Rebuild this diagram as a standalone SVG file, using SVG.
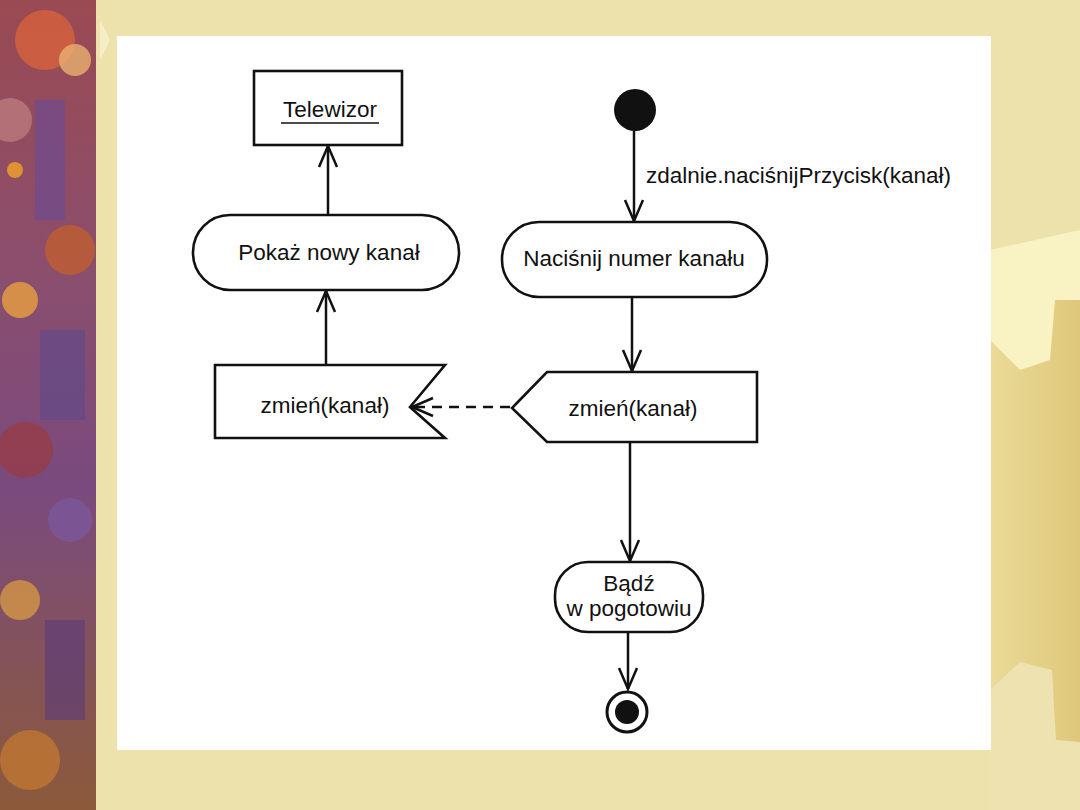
<svg xmlns="http://www.w3.org/2000/svg" width="1080" height="810" viewBox="0 0 1080 810">
  <defs>
    <linearGradient id="rightBg" x1="0" y1="0" x2="1" y2="0">
      <stop offset="0" stop-color="#EADB98"/>
      <stop offset="1" stop-color="#DEC77A"/>
    </linearGradient>
    <linearGradient id="leftStrip" x1="0" y1="0" x2="0" y2="1">
      <stop offset="0" stop-color="#9A4A52"/>
      <stop offset="0.35" stop-color="#8A4E6E"/>
      <stop offset="0.6" stop-color="#7A4A7E"/>
      <stop offset="1" stop-color="#8C5A3A"/>
    </linearGradient>
    <marker id="open" viewBox="-23 -11 25 22" refX="0" refY="0" markerWidth="25" markerHeight="22" markerUnits="userSpaceOnUse" orient="auto">
      <path d="M-21,-9 L0,0 L-21,9" fill="none" stroke="#111" stroke-width="2.5" stroke-linejoin="miter"/>
    </marker>
    <style>
      .shape { fill: #fff; stroke: #111; stroke-width: 2.6; }
      .lbl { font-family: "Liberation Sans", Arial, sans-serif; font-size: 22.5px; fill: #111; text-anchor: middle; }
      .edge { fill: none; stroke: #111; stroke-width: 2.5; }
      .dash { stroke-dasharray: 10 7; }
    </style>
  </defs>

  <!-- slide background -->
  <g id="background">
    <rect x="0" y="0" width="1080" height="810" fill="#EDE2AC"/>
    <rect x="990" y="300" width="90" height="510" fill="url(#rightBg)"/>
    <polygon points="990,250 1080,230 1080,300 1055,300 1050,360 1020,370 990,340" fill="#F9F2C2"/>
    <polygon points="990,690 1020,662 1052,670 1056,740 1080,742 1080,810 990,810" fill="#EEE2B0"/>
    <polygon points="100,20 110,40 100,60" fill="#F5EDC6"/>
    <rect x="0" y="0" width="96" height="810" fill="url(#leftStrip)"/>
    <circle cx="45" cy="40" r="30" fill="#D2603E" opacity="0.85"/>
    <circle cx="75" cy="60" r="16" fill="#E8B070" opacity="0.8"/>
    <circle cx="10" cy="120" r="22" fill="#C08080" opacity="0.7"/>
    <rect x="35" y="100" width="30" height="120" fill="#6E4C90" opacity="0.7"/>
    <circle cx="15" cy="170" r="8" fill="#E89A30" opacity="0.9"/>
    <circle cx="70" cy="250" r="25" fill="#C8602A" opacity="0.7"/>
    <circle cx="20" cy="300" r="18" fill="#E8A040" opacity="0.8"/>
    <rect x="40" y="330" width="45" height="90" fill="#5E4A8A" opacity="0.6"/>
    <circle cx="25" cy="450" r="28" fill="#9A3A40" opacity="0.7"/>
    <circle cx="70" cy="520" r="22" fill="#7A5AA0" opacity="0.7"/>
    <circle cx="20" cy="600" r="20" fill="#E0A040" opacity="0.7"/>
    <rect x="45" y="620" width="40" height="100" fill="#5A3A7A" opacity="0.6"/>
    <circle cx="30" cy="760" r="30" fill="#C87A30" opacity="0.7"/>
    <rect x="117" y="36" width="874" height="714" fill="#FFFFFF"/>
  </g>

  <!-- connectors -->
  <g id="connectors">
    <line class="edge" x1="328" y1="215" x2="328" y2="146" marker-end="url(#open)"/>
    <line class="edge" x1="326" y1="365" x2="326" y2="291" marker-end="url(#open)"/>
    <line class="edge" x1="634" y1="131" x2="634" y2="221" marker-end="url(#open)"/>
    <line class="edge" x1="632" y1="297" x2="632" y2="371" marker-end="url(#open)"/>
    <line class="edge" x1="630" y1="442" x2="630" y2="561" marker-end="url(#open)"/>
    <line class="edge" x1="628" y1="632" x2="628" y2="689" marker-end="url(#open)"/>
    <line class="edge dash" x1="510" y1="407" x2="412" y2="407" marker-end="url(#open)"/>
    <text class="lbl" x="646" y="183" style="text-anchor:start">zdalnie.naciśnijPrzycisk(kanał)</text>
  </g>

  <g id="telewizor">
    <rect class="shape" x="254" y="71" width="148" height="74"/>
    <text class="lbl" x="330" y="117">Telewizor</text>
    <line x1="281" y1="123" x2="379" y2="123" stroke="#111" stroke-width="1.5"/>
  </g>

  <g id="pokaz">
    <rect class="shape" x="193" y="215" width="266" height="75" rx="37" ry="37"/>
    <text class="lbl" x="329" y="260">Pokaż nowy kanał</text>
  </g>

  <g id="zmien-receive">
    <polygon class="shape" points="215,365 445,365 410,407 445,438 215,438"/>
    <text class="lbl" x="325" y="413">zmień(kanał)</text>
  </g>

  <g id="start">
    <circle cx="635" cy="110" r="21" fill="#111"/>
  </g>

  <g id="nacisnij">
    <rect class="shape" x="502" y="222" width="265" height="75" rx="37" ry="37"/>
    <text class="lbl" x="634" y="266">Naciśnij numer kanału</text>
  </g>

  <g id="zmien-send">
    <polygon class="shape" points="547,372 757,372 757,442 547,442 512,408"/>
    <text class="lbl" x="633" y="416">zmień(kanał)</text>
  </g>

  <g id="badz">
    <rect class="shape" x="555" y="562" width="148" height="70" rx="33" ry="33"/>
    <text class="lbl" x="629" y="591">Bądź</text>
    <text class="lbl" x="629" y="616">w pogotowiu</text>
  </g>

  <g id="end">
    <circle cx="627" cy="712" r="20" fill="#fff" stroke="#111" stroke-width="3"/>
    <circle cx="627" cy="712" r="12" fill="#111"/>
  </g>
</svg>
